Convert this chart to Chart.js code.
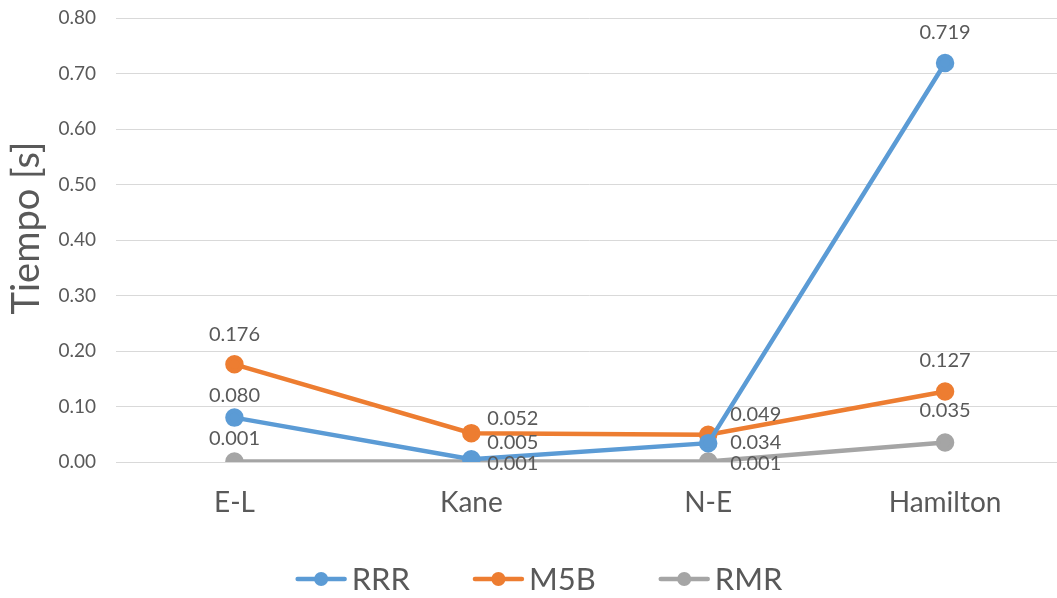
<!DOCTYPE html>
<html>
<head>
<meta charset="utf-8">
<script src="https://cdn.jsdelivr.net/npm/chart.js@4.4.1/dist/chart.umd.min.js"></script>
<style>
  html, body { margin: 0; padding: 0; background: #ffffff; overflow: hidden; }
  #wrap { width: 1075px; height: 598px; }
</style>
</head>
<body>
<div id="wrap"><canvas id="chart" width="1075" height="598"></canvas></div>
<script>
// Categories and measured times (seconds)
const categories = ['E-L', 'Kane', 'N-E', 'Hamilton'];
const rrrValues = [0.080, 0.005, 0.034, 0.719];
const m5bValues = [0.176, 0.052, 0.049, 0.127];
const rmrValues = [0.001, 0.001, 0.001, 0.035];
const yTicks = [0, 0.1, 0.2, 0.3, 0.4, 0.5, 0.6, 0.7, 0.8];

const FONT = 'Lato, "Open Sans", sans-serif';
const TEXT = '#595959';
const Y_TITLE = 'Tiempo [s]';

// Value label offsets (pixels relative to each point) and alignment
const rrrLabelPos = [[0, -22, 'center'], [16, -17, 'left'], [22, -1, 'left'], [0, -30, 'center']];
const m5bLabelPos = [[0, -30, 'center'], [16, -15, 'left'], [22, -20, 'left'], [0, -31, 'center']];
const rmrLabelPos = [[0, -23, 'center'], [16, 2, 'left'], [22, 2, 'left'], [0, -32, 'center']];

function series(label, data, color, labelPos) {
  return {
    label, data,
    borderColor: color, backgroundColor: color,
    pointBackgroundColor: color, pointBorderColor: color,
    borderWidth: 4.5, pointRadius: 7, pointHoverRadius: 7,
    tension: 0, labelPos
  };
}

const valueLabels = {
  id: 'valueLabels',
  afterDatasetsDraw(chart) {
    const ctx = chart.ctx;
    ctx.save();
    ctx.font = '20px ' + FONT;
    ctx.fillStyle = TEXT;
    ctx.textBaseline = 'middle';
    chart.data.datasets.forEach((ds, i) => {
      const meta = chart.getDatasetMeta(i);
      meta.data.forEach((pt, j) => {
        const [dx, dy, align] = ds.labelPos[j];
        ctx.textAlign = align;
        ctx.fillText(ds.data[j].toFixed(3), pt.x + dx, pt.y + dy);
      });
    });
    ctx.restore();
  }
};

// Rotated value-axis title, drawn beside the tick labels
const axisTitle = {
  id: 'axisTitle',
  afterDraw(chart) {
    const ctx = chart.ctx;
    ctx.save();
    ctx.font = '38px ' + FONT;
    ctx.fillStyle = TEXT;
    ctx.textAlign = 'center';
    ctx.textBaseline = 'alphabetic';
    ctx.translate(39, 228);
    ctx.rotate(-Math.PI / 2);
    ctx.fillText(Y_TITLE, 0, 0);
    ctx.restore();
  }
};

const lineLegend = {
  id: 'lineLegend',
  afterDraw(chart) {
    const ctx = chart.ctx;
    ctx.save();
    ctx.font = '31px ' + FONT;
    ctx.textBaseline = 'middle';
    const lineW = 51, gapText = 5, gapItem = 63, cy = 579, centerX = 539;
    const items = chart.data.datasets.map(ds => ({ ds, w: ctx.measureText(ds.label).width }));
    const total = items.reduce((s, it) => s + lineW + gapText + it.w, 0) + gapItem * (items.length - 1);
    let x = centerX - total / 2;
    items.forEach(({ ds, w }) => {
      ctx.strokeStyle = ds.borderColor;
      ctx.lineWidth = 4.5;
      ctx.lineCap = 'round';
      ctx.beginPath();
      ctx.moveTo(x + 2, cy);
      ctx.lineTo(x + lineW - 2, cy);
      ctx.stroke();
      ctx.fillStyle = ds.borderColor;
      ctx.beginPath();
      ctx.arc(x + lineW / 2, cy, 7, 0, Math.PI * 2);
      ctx.fill();
      ctx.fillStyle = TEXT;
      ctx.textAlign = 'left';
      ctx.fillText(ds.label, x + lineW + gapText, cy + 1);
      x += lineW + gapText + w + gapItem;
    });
    ctx.restore();
  }
};

new Chart(document.getElementById('chart'), {
  type: 'line',
  data: {
    labels: categories,
    datasets: [
      series('RRR', rrrValues, '#5B9BD5', rrrLabelPos),
      series('M5B', m5bValues, '#ED7D31', m5bLabelPos),
      series('RMR', rmrValues, '#A5A5A5', rmrLabelPos)
    ]
  },
  options: {
    responsive: false,
    animation: false,
    layout: { padding: { top: 18, bottom: 0, left: 0, right: 0 } },
    plugins: {
      legend: { display: false },
      tooltip: { enabled: false }
    },
    scales: {
      x: {
        offset: true,
        grid: { display: false, drawTicks: false },
        border: { display: true, color: '#D9D9D9', width: 1 },
        ticks: { color: TEXT, font: { family: FONT, size: 28 }, padding: 24 },
        afterFit(scale) {
          scale.height = 136;
          scale.paddingLeft = 0;
          scale.paddingRight = 0;
        }
      },
      y: {
        min: 0, max: 0.8,
        afterBuildTicks(scale) { scale.ticks = yTicks.map(v => ({ value: v })); },
        grid: { color: '#D9D9D9', lineWidth: 1, drawTicks: false },
        border: { display: false },
        ticks: {
          color: TEXT, font: { family: FONT, size: 19 }, padding: 20,
          callback: v => v.toFixed(2)
        },
        afterFit(scale) {
          scale.width = 116;
          scale.paddingTop = 0;
          scale.paddingBottom = 0;
        }
      }
    }
  },
  plugins: [valueLabels, axisTitle, lineLegend]
});
</script>
</body>
</html>
